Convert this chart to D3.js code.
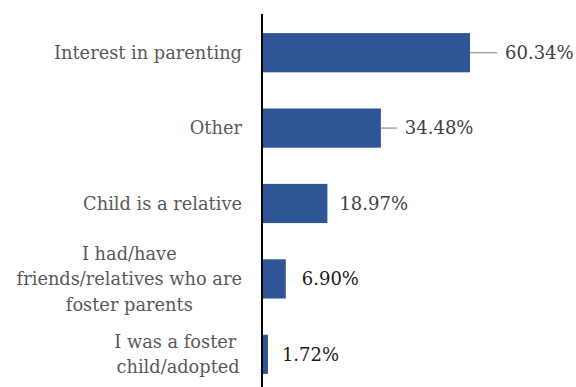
<!DOCTYPE html>
<html>
<head>
<meta charset="utf-8">
<script src="https://cdn.jsdelivr.net/npm/d3@7"></script>
<style>
  body { margin: 0; background: #fff; }
  text { font-family: "DejaVu Serif", serif; }
</style>
</head>
<body>
<script>
const width = 576;
const height = 387;

// data
const categories = [
    "Interest in parenting",
    "Other",
    "Child is a relative",
    "I had/have friends/relatives who are foster parents",
    "I was a foster child/adopted"
];
const labelLines = [
    ["Interest in parenting"],
    ["Other"],
    ["Child is a relative"],
    ["I had/have", "friends/relatives who are", "foster parents"],
    ["I was a foster ", "child/adopted"]
];
const values = [60.34, 34.48, 18.97, 6.90, 1.72];
const valueLabels = ["60.34%", "34.48%", "18.97%", "6.90%", "1.72%"];

// label placement tweaks (gap after bar end, leader line or not)
const labelGap = [35, 24, 12, 16, 14];
const hasLeader = [true, true, false, false, false];
const labelColor = ["#404040", "#404040", "#404040", "#1a1a1a", "#1a1a1a"];

var svg = d3.select("body")
    .append("svg")
    .attr("width", width)
    .attr("height", height);

var axisX = 262;
var x_scale = d3.scaleLinear()
    .domain([0, 60.34])
    .range([axisX, 470]);
var y_scale = d3.scaleBand()
    .domain(categories)
    .range([15, 392])
    .paddingInner(0.48)
    .paddingOuter(0.24);

//bars
svg.selectAll("rect.bar")
    .data(values)
    .enter()
    .append("rect")
    .attr("class", "bar")
    .attr("x", axisX)
    .attr("y", (d, i) => y_scale(categories[i]))
    .attr("width", (d) => x_scale(d) - axisX)
    .attr("height", y_scale.bandwidth())
    .attr("fill", "#2F5597");

//axis line
svg.append("line")
    .attr("x1", axisX).attr("x2", axisX)
    .attr("y1", 14).attr("y2", height)
    .attr("stroke", "#000")
    .attr("stroke-width", 2);

//value labels
values.forEach(function (v, i) {
    var cy = y_scale(categories[i]) + y_scale.bandwidth() / 2;
    var lx = x_scale(v) + labelGap[i];
    if (hasLeader[i]) {
        svg.append("line")
            .attr("x1", x_scale(v)).attr("x2", lx - 8)
            .attr("y1", cy).attr("y2", cy)
            .attr("stroke", "#a6a6a6")
            .attr("stroke-width", 1.5);
    }
    svg.append("text")
        .attr("x", lx)
        .attr("y", cy)
        .attr("dy", "0.35em")
        .style("font-size", "18px")
        .attr("fill", labelColor[i])
        .text(valueLabels[i]);
});

//category labels, multi line centred on the widest line
var rightEdge = 242;
var lineH = 25.5;
labelLines.forEach(function (lines, i) {
    var cy = y_scale(categories[i]) + y_scale.bandwidth() / 2;
    var g = svg.append("g");
    var texts = lines.map(function (s, k) {
        return g.append("text")
            .attr("y", cy + (k - (lines.length - 1) / 2) * lineH)
            .attr("dy", "0.35em")
            .attr("text-anchor", "middle")
            .style("font-size", "17.8px")
            .style("white-space", "pre")
            .attr("fill", "#595959")
            .text(s);
    });
    var maxW = d3.max(texts, (t) => t.node().getComputedTextLength());
    texts.forEach((t) => t.attr("x", rightEdge - maxW / 2));
});
</script>
</body>
</html>
